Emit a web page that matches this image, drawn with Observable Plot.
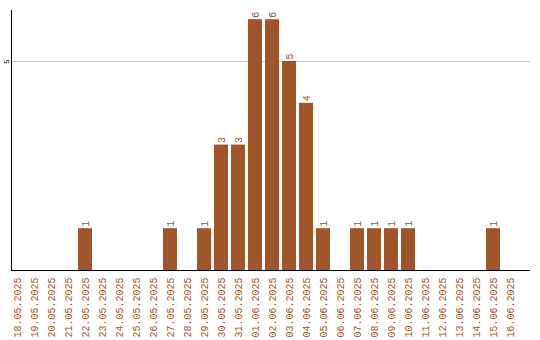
<!DOCTYPE html>
<html>
<head>
<meta charset="utf-8">
<script src="https://cdn.jsdelivr.net/npm/d3@7"></script>
<script src="https://cdn.jsdelivr.net/npm/@observablehq/plot@0.6"></script>
<style>
html,body{margin:0;padding:0;background:#fff;}
</style>
</head>
<body>
<div id="chart"></div>
<script>
const dates = ["18.05.2025","19.05.2025","20.05.2025","21.05.2025","22.05.2025","23.05.2025","24.05.2025","25.05.2025","26.05.2025","27.05.2025","28.05.2025","29.05.2025","30.05.2025","31.05.2025","01.06.2025","02.06.2025","03.06.2025","04.06.2025","05.06.2025","06.06.2025","07.06.2025","08.06.2025","09.06.2025","10.06.2025","11.06.2025","12.06.2025","13.06.2025","14.06.2025","15.06.2025","16.06.2025"];
const counts = [0,0,0,0,1,0,0,0,0,1,0,1,3,3,6,6,5,4,1,0,1,1,1,1,0,0,0,0,1,0];
const yTicks = [5];

const data = dates.map((d, i) => ({date: d, count: counts[i]}));
const nonZero = data.filter(d => d.count > 0);
const color = "#a0552b";
const font = "Liberation Mono, monospace";

const chart = Plot.plot({
  width: 540,
  height: 340,
  marginTop: 10,
  marginBottom: 70,
  marginLeft: 11,
  marginRight: 10,
  style: {fontFamily: font, background: "#fff"},
  x: {domain: dates, range: [8.5, 518.5], paddingInner: 3/17, paddingOuter: 1.5/17},
  y: {domain: [0, 6.22]},
  marks: [
    Plot.gridY(yTicks, {stroke: "#c8c8c8", strokeOpacity: 1}),
    Plot.barY(nonZero, {x: "date", y: "count", fill: color}),
    Plot.text(nonZero, {x: "date", y: "count", text: d => String(d.count), rotate: -90, textAnchor: "start", dy: -2, fill: color, fontSize: 10, fontFamily: font}),
    Plot.axisX({tickSize: 0, tickPadding: 7, tickRotate: -90, fontSize: 10, fill: color, label: null, fontFamily: font}),
    Plot.axisY(yTicks, {tickSize: 0, tickPadding: 3, tickRotate: -90, fontSize: 8, fill: "#000", label: null, fontFamily: font}),
    Plot.ruleY([0], {stroke: "#000"}),
    Plot.frame({anchor: "left", stroke: "#000"})
  ]
});
document.getElementById("chart").appendChild(chart);
</script>
</body>
</html>
